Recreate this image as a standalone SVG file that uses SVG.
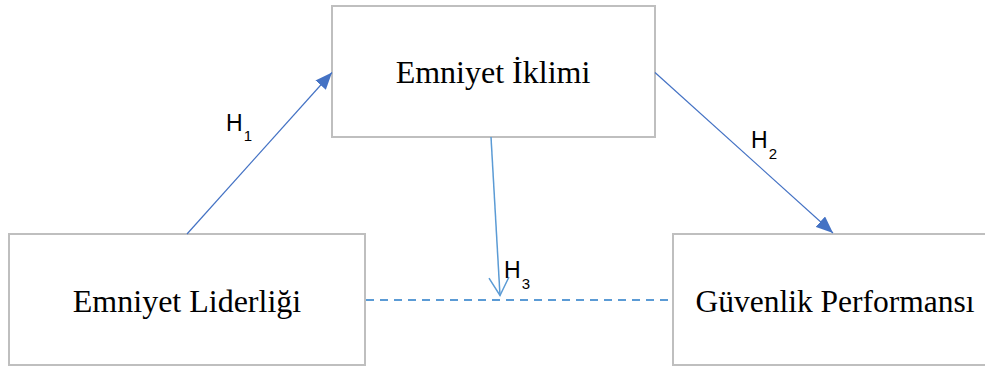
<svg xmlns="http://www.w3.org/2000/svg" width="985" height="367" viewBox="0 0 985 367">
<style>
.box{fill:#ffffff;stroke:#BFBFBF;stroke-width:2}
.lbl{font-family:"Liberation Serif","Times New Roman",serif;font-size:32px;fill:#000;text-anchor:middle}
.h{font-family:"Liberation Sans",Arial,sans-serif;font-size:23px;fill:#000}
.sub{font-size:15px}
.solid{stroke:#4472C4;stroke-width:1.2;fill:none}
.open{stroke:#5B9BD5;stroke-width:1.5;fill:none}
.dash{stroke:#5B9BD5;stroke-width:2;fill:none;stroke-dasharray:8 6}
</style>
<defs>
<marker id="tri" markerUnits="userSpaceOnUse" markerWidth="18" markerHeight="14" refX="17" refY="7" orient="auto" viewBox="0 0 18 14">
<path d="M0,0 L17,7 L0,14 Z" fill="#4472C4"/>
</marker>
<marker id="vee" markerUnits="userSpaceOnUse" markerWidth="22" markerHeight="24" refX="19" refY="11" orient="auto" viewBox="0 0 22 24" overflow="visible">
<path d="M1,1 L19,11 L1,21" fill="none" stroke="#5B9BD5" stroke-width="1.5"/>
</marker>
</defs>
<g id="node-climate">
<rect class="box" x="332" y="6" width="323" height="131"/>
<text class="lbl" x="493" y="83">Emniyet İklimi</text>
</g>
<g id="node-leadership">
<rect class="box" x="9" y="234" width="356" height="131"/>
<text class="lbl" x="187" y="312">Emniyet Liderliği</text>
</g>
<g id="node-performance">
<rect class="box" x="673" y="234" width="320" height="131"/>
<text class="lbl" x="835" y="312" style="font-size:31.5px">Güvenlik Performansı</text>
</g>
<g id="connectors">
<line class="solid" x1="187" y1="234" x2="332" y2="72.5" marker-end="url(#tri)"/>
<line class="solid" x1="655" y1="72.5" x2="833" y2="233" marker-end="url(#tri)"/>
<line class="open" x1="491" y1="137" x2="500" y2="295.5" marker-end="url(#vee)"/>
<line class="dash" x1="366" y1="300" x2="672" y2="300"/>
<text class="h" x="226" y="131">H<tspan class="sub" dx="1" dy="10">1</tspan></text>
<text class="h" x="751" y="148">H<tspan class="sub" dx="1" dy="11">2</tspan></text>
<text class="h" x="504" y="278">H<tspan class="sub" dx="1" dy="11">3</tspan></text>
</g>
</svg>
